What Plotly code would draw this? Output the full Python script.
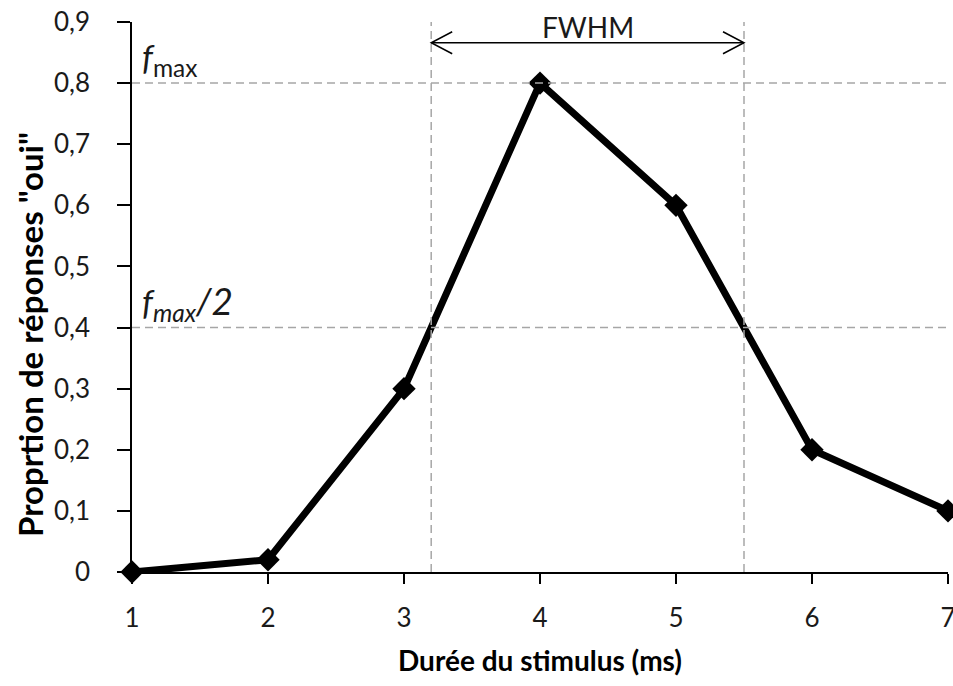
import plotly.graph_objects as go

# Stimulus durations (ms) and proportion of "oui" responses
durations = [1, 2, 3, 4, 5, 6, 7]
proportions = [0, 0.02, 0.3, 0.8, 0.6, 0.2, 0.1]

y_tickvals = [0, 0.1, 0.2, 0.3, 0.4, 0.5, 0.6, 0.7, 0.8, 0.9]
y_ticktext = ["0", "0,1", "0,2", "0,3", "0,4", "0,5", "0,6", "0,7", "0,8", "0,9"]
x_tickvals = [1, 2, 3, 4, 5, 6, 7]

# Peak value and half maximum
f_max = max(proportions)
half_max = f_max / 2


def crossings(xs, ys, level):
    """Linear interpolation of the points where the curve crosses `level`."""
    out = []
    for i in range(len(xs) - 1):
        y0, y1 = ys[i], ys[i + 1]
        if (y0 - level) * (y1 - level) < 0:
            out.append(xs[i] + (level - y0) * (xs[i + 1] - xs[i]) / (y1 - y0))
    return out


x_lo, x_hi = crossings(durations, proportions, half_max)

FONT = "Lato"
TEXT = "#1a1a1a"
DASH_COLOR = "#a6a6a6"
ARROW_Y = 0.866

fig = go.Figure()
fig.add_trace(go.Scatter(
    x=durations, y=proportions, mode="lines+markers",
    line=dict(color="black", width=7),
    marker=dict(symbol="diamond", size=18, color="black"),
    cliponaxis=False, showlegend=False, hoverinfo="x+y",
))

dash = dict(color=DASH_COLOR, width=1.5, dash="8px,5px")
shapes = [
    # horizontal guides at f_max and f_max/2
    dict(type="line", xref="x", yref="y", x0=durations[0], x1=durations[-1],
         y0=f_max, y1=f_max, line=dash, layer="above"),
    dict(type="line", xref="x", yref="y", x0=durations[0], x1=durations[-1],
         y0=half_max, y1=half_max, line=dash, layer="above"),
    # vertical guides at the half-maximum crossings
    dict(type="line", xref="x", yref="y", x0=x_lo, x1=x_lo,
         y0=0, y1=y_tickvals[-1], line=dash, layer="above"),
    dict(type="line", xref="x", yref="y", x0=x_hi, x1=x_hi,
         y0=0, y1=y_tickvals[-1], line=dash, layer="above"),
    # FWHM double arrow
    dict(type="line", xref="x", yref="y", x0=x_lo, x1=x_hi,
         y0=ARROW_Y, y1=ARROW_Y, line=dict(color="black", width=1.5), layer="above"),
    dict(type="path", xref="x", yref="y", xsizemode="pixel", ysizemode="pixel",
         xanchor=x_lo, yanchor=ARROW_Y, path="M 21,-11 L 0,0 L 21,11",
         line=dict(color="black", width=1.5), layer="above"),
    dict(type="path", xref="x", yref="y", xsizemode="pixel", ysizemode="pixel",
         xanchor=x_hi, yanchor=ARROW_Y, path="M -21,-11 L 0,0 L -21,11",
         line=dict(color="black", width=1.5), layer="above"),
]

annotations = [
    dict(x=(x_lo + x_hi) / 2, y=ARROW_Y, xref="x", yref="y", text="FWHM",
         showarrow=False, yanchor="bottom", yshift=-3,
         font=dict(family=FONT, size=28, color=TEXT)),
    dict(x=durations[0], y=f_max, xref="x", yref="y",
         text="<i><span style='font-size:34px'>f</span></i><sub>max</sub>",
         showarrow=False, xanchor="left", yanchor="bottom", xshift=8, yshift=-1,
         font=dict(family=FONT, size=35, color=TEXT)),
    dict(x=durations[0], y=half_max, xref="x", yref="y",
         text="<i><span style='font-size:34px'>f</span><sub>max</sub>"
              "<span style='font-size:37px'>/2</span></i>",
         showarrow=False, xanchor="left", yanchor="bottom", xshift=8, yshift=-1,
         font=dict(family=FONT, size=35, color=TEXT)),
    # y-axis title
    dict(x=0, y=0.431, xref="paper", yref="paper", xanchor="center",
         yanchor="middle", xshift=-102, textangle=-90, showarrow=False,
         text="<b>Proprtion de réponses \"oui\"</b>",
         font=dict(family=FONT, size=33, color="black")),
]

fig.update_layout(
    width=953, height=686,
    margin=dict(l=132, r=5, t=22, b=114),
    paper_bgcolor="white", plot_bgcolor="white",
    font=dict(family=FONT, size=26, color=TEXT),
    shapes=shapes, annotations=annotations,
    xaxis=dict(
        range=[durations[0], durations[-1]], tickvals=x_tickvals,
        automargin=False,
        showgrid=False, zeroline=False, showline=True, linecolor="black",
        linewidth=1.5, ticks="outside", ticklen=10, tickwidth=1.5,
        tickcolor="black", ticklabelstandoff=12, ticklabeloverflow="allow",
        tickfont=dict(family=FONT, size=26, color=TEXT),
        title=dict(text="<b>Durée du stimulus (ms)</b>", standoff=19,
                   font=dict(family=FONT, size=28, color="black")),
    ),
    yaxis=dict(
        range=[0, 0.9], tickvals=y_tickvals, ticktext=y_ticktext,
        automargin=False,
        showgrid=False, zeroline=False, showline=True, linecolor="black",
        linewidth=1.5, ticks="outside", ticklen=13, tickwidth=1.5,
        tickcolor="black", ticklabelstandoff=22,
        tickfont=dict(family=FONT, size=26, color=TEXT),
    ),
)

fig.write_html("out.html")
